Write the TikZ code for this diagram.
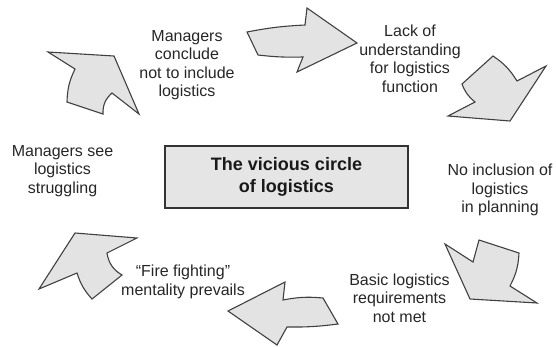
\documentclass[tikz,border=0pt]{standalone}
\usepackage{fontspec}
\setmainfont{Liberation Sans}
\begin{document}
\begin{tikzpicture}[x=1pt,y=-1pt,
  arrowshape/.style={fill=gray!22, draw=black!75, line width=1.1pt, line join=miter},
  lbl/.style={align=center, font=\fontsize{16}{18.5}\selectfont, text=black!85, inner sep=0pt},
  titlebox/.style={draw=black!80, line width=1.3pt, fill=gray!20, minimum width=243pt,
    minimum height=62pt, align=center, text=black!90,
    font=\bfseries\fontsize{18}{22}\selectfont}]
\useasboundingbox (0,0) rectangle (556,346);

% central box
\node[titlebox] (title) at (286.5,177) {The vicious circle\\of logistics};

% labels
\node[lbl] (conclude) at (187,65) {Managers\\conclude\\not to include\\logistics};
\node[lbl] (lack) at (410,59) {Lack of\\understanding\\for logistics\\function};
\node[lbl] (noinc) at (500,190) {No inclusion of\\logistics\\in planning};
\node[lbl] (basic) at (399.5,298) {Basic logistics\\requirements\\not met};
\node[lbl] (fire) at (183,282) {``Fire fighting''\\mentality prevails};
\node[lbl] (see) at (62.5,171) {Managers see\\logistics\\struggling};

% arrow 1 (right)
\draw[arrowshape] (247,32) to[bend left=4] (305,25) -- (307,8) -- (357,43) -- (297,72)
  -- (303,57) to[bend left=4] (258,55) -- cycle;
% arrow 2 (down-right)
\draw[arrowshape] (493,56) to[bend left=12] (517,81) -- (546,66) -- (510,121) -- (448,116)
  -- (475,102) to[bend left=15] (462,84) -- cycle;
% arrow 3 (down-left)
\draw[arrowshape] (445,244) -- (473,262) -- (479,240) -- (519,253) to[bend left=12] (510,286)
  -- (537,303) -- (470,299) -- cycle;
% arrow 4 (left)
\draw[arrowshape] (285,282) -- (283,300) to[bend left=8] (323,298) -- (338,324)
  to[bend left=4] (287,327) -- (277,345) -- (228,311) -- cycle;
% arrow 5 (up-left)
\draw[arrowshape] (75,233) -- (137,238) -- (107,253) to[bend right=25] (122,275) -- (92,299)
  to[bend left=12] (77,273) -- (39,289) -- cycle;
% arrow 6 (up-right)
\draw[arrowshape] (48,52) -- (75,69) to[bend right=12] (67,102) -- (103,114)
  to[bend left=25] (112,93) -- (139,114) -- (114,56) -- cycle;
\end{tikzpicture}
\end{document}
